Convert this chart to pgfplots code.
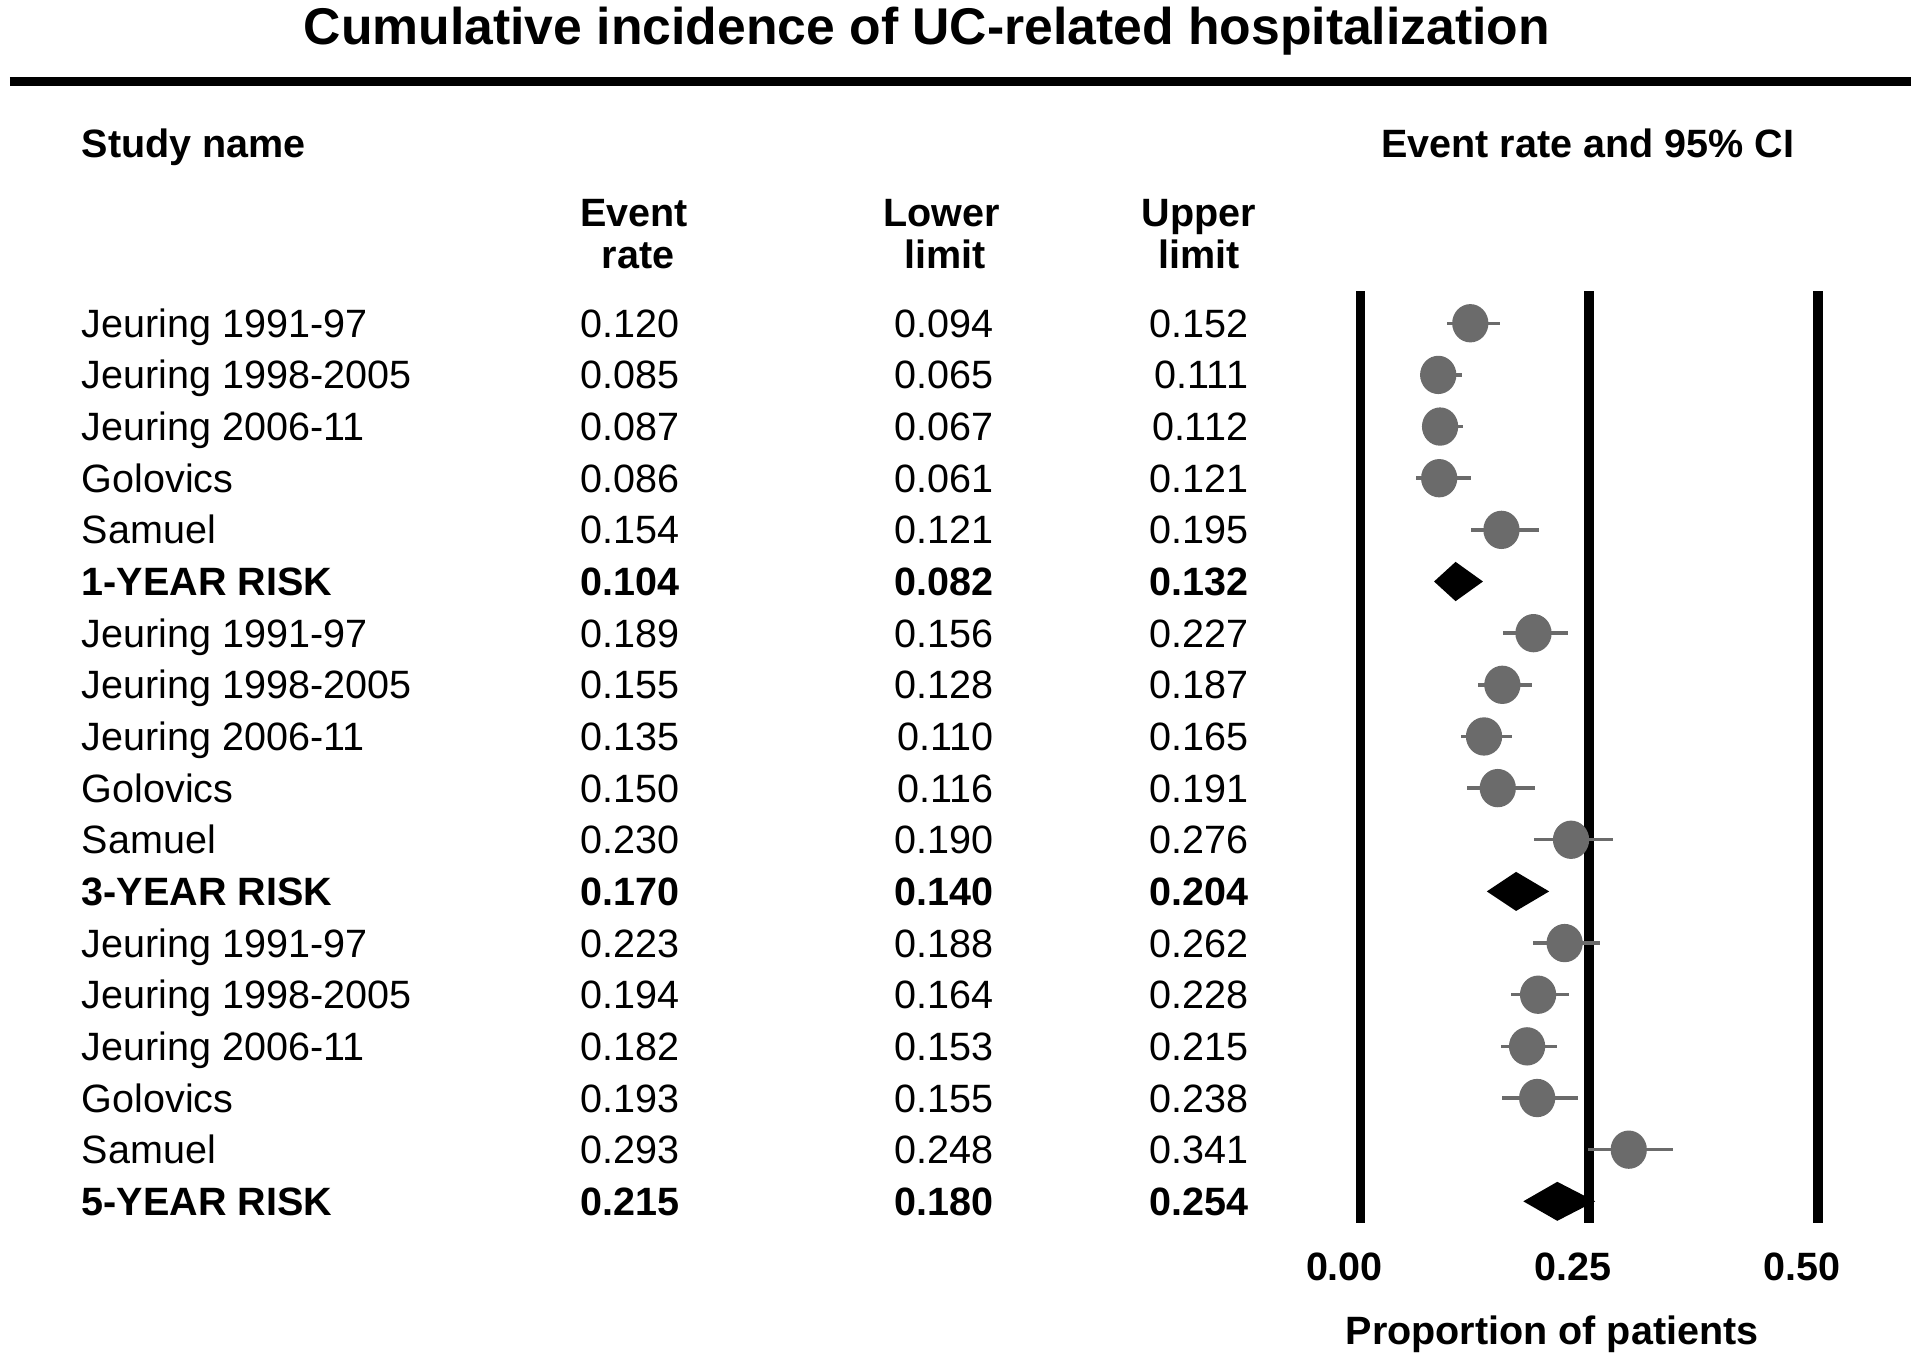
\documentclass[border=0pt]{standalone}
\usepackage{fontspec}
\setmainfont{Liberation Sans}
\usepackage{pgfplots}
\pgfplotsset{compat=1.18}
\usepackage{pgfplotstable}

\definecolor{dotgray}{HTML}{6B6B6B}
\newcommand\bodyfont{\fontsize{8.07}{9.7}\selectfont}
\newcommand\titlefont{\fontsize{10.55}{12.6}\selectfont\bfseries}

\pgfplotstableread{
row est lo hi
1 0.120 0.094 0.152
2 0.085 0.065 0.111
3 0.087 0.067 0.112
4 0.086 0.061 0.121
5 0.154 0.121 0.195
7 0.189 0.156 0.227
8 0.155 0.128 0.187
9 0.135 0.110 0.165
10 0.150 0.116 0.191
11 0.230 0.190 0.276
13 0.223 0.188 0.262
14 0.194 0.164 0.228
15 0.182 0.153 0.215
16 0.193 0.155 0.238
17 0.293 0.248 0.341
}\studies

\begin{document}
\begin{tikzpicture}
\begin{scope}[x=0.25pt,y=-0.25pt]
\useasboundingbox (0,0) rectangle (1568,1111);
% title and rule
\node[anchor=base,inner sep=0pt,font=\titlefont] at (757,36.7) {Cumulative incidence of UC-related hospitalization};
\draw[line width=1.75pt,black] (8,66.5) -- (1561,66.5);
% headers
\node[anchor=base west,inner sep=0pt,font=\bodyfont\bfseries] at (66,128.5) {Study name};
\node[anchor=base east,inner sep=0pt,font=\bodyfont\bfseries] at (1466,128.5) {Event rate and 95\% CI};
\node[anchor=base,inner sep=0pt,font=\bodyfont\bfseries] at (518,184.6) {Event};
\node[anchor=base,inner sep=0pt,font=\bodyfont\bfseries] at (521,219.5) {rate};
\node[anchor=base,inner sep=0pt,font=\bodyfont\bfseries] at (769,184.6) {Lower};
\node[anchor=base,inner sep=0pt,font=\bodyfont\bfseries] at (772,219.5) {limit};
\node[anchor=base,inner sep=0pt,font=\bodyfont\bfseries] at (979,184.6) {Upper};
\node[anchor=base,inner sep=0pt,font=\bodyfont\bfseries] at (979,219.5) {limit};
% rows
\foreach \i/\nm/\e/\l/\u in {
 1/Jeuring 1991-97/0.120/0.094/0.152,
 2/Jeuring 1998-2005/0.085/0.065/0.111,
 3/Jeuring 2006-11/0.087/0.067/0.112,
 4/Golovics/0.086/0.061/0.121,
 5/Samuel/0.154/0.121/0.195,
 7/Jeuring 1991-97/0.189/0.156/0.227,
 8/Jeuring 1998-2005/0.155/0.128/0.187,
 9/Jeuring 2006-11/0.135/0.110/0.165,
 10/Golovics/0.150/0.116/0.191,
 11/Samuel/0.230/0.190/0.276,
 13/Jeuring 1991-97/0.223/0.188/0.262,
 14/Jeuring 1998-2005/0.194/0.164/0.228,
 15/Jeuring 2006-11/0.182/0.153/0.215,
 16/Golovics/0.193/0.155/0.238,
 17/Samuel/0.293/0.248/0.341}{
 \pgfmathsetmacro\yb{275.5+(\i-1)*42.18}
 \node[anchor=base west,inner sep=0pt,font=\bodyfont] at (66,\yb) {\nm};
 \node[anchor=base east,inner sep=0pt,font=\bodyfont] at (556,\yb) {\e};
 \node[anchor=base east,inner sep=0pt,font=\bodyfont] at (812,\yb) {\l};
 \node[anchor=base east,inner sep=0pt,font=\bodyfont] at (1020,\yb) {\u};
}
\foreach \i/\nm/\e/\l/\u in {
 6/1-YEAR RISK/0.104/0.082/0.132,
 12/3-YEAR RISK/0.170/0.140/0.204,
 18/5-YEAR RISK/0.215/0.180/0.254}{
 \pgfmathsetmacro\yb{275.5+(\i-1)*42.18}
 \node[anchor=base west,inner sep=0pt,font=\bodyfont\bfseries] at (66,\yb) {\nm};
 \node[anchor=base east,inner sep=0pt,font=\bodyfont\bfseries] at (556,\yb) {\e};
 \node[anchor=base east,inner sep=0pt,font=\bodyfont\bfseries] at (812,\yb) {\l};
 \node[anchor=base east,inner sep=0pt,font=\bodyfont\bfseries] at (1020,\yb) {\u};
}
\node[anchor=base,inner sep=0pt,font=\bodyfont\bfseries] at (1267.5,1098) {Proportion of patients};
\end{scope}

\begin{axis}[
  at={(277.75pt,-249.75pt)}, anchor=south west,
  scale only axis, width=93.5pt, height=190.25pt,
  xmin=0, xmax=0.5, ymin=0.384, ymax=18.425, y dir=reverse,
  axis line style={draw=none}, tick style={draw=none},
  xtick={0,0.25,0.5}, xticklabels={0.00,0.25,0.50},
  xticklabel style={font=\bodyfont\bfseries, xshift=-3.25pt, yshift=-2.5pt},
  ytick=\empty,
  xmajorgrids, major grid style={black, line width=2pt},
  clip=false,
]
\addplot[only marks, mark=*, mark size=3.5pt, color=dotgray,
  mark options={fill=dotgray, draw=dotgray, yscale=1.06},
  error bars/.cd, x dir=both, x explicit, error mark=none,
  error bar style={line width=0.7pt, dotgray}]
  table[x=est, y=row,
        x error plus expr=\thisrow{hi}-\thisrow{est},
        x error minus expr=\thisrow{est}-\thisrow{lo}] {\studies};
\addplot[fill=black, draw=black] coordinates {(0.082,6) (0.104,5.644) (0.132,6) (0.104,6.356)} -- cycle;
\addplot[fill=black, draw=black] coordinates {(0.140,12) (0.170,11.644) (0.204,12) (0.170,12.356)} -- cycle;
\addplot[fill=black, draw=black] coordinates {(0.180,18) (0.215,17.644) (0.254,18) (0.215,18.356)} -- cycle;
\end{axis}
\end{tikzpicture}
\end{document}
